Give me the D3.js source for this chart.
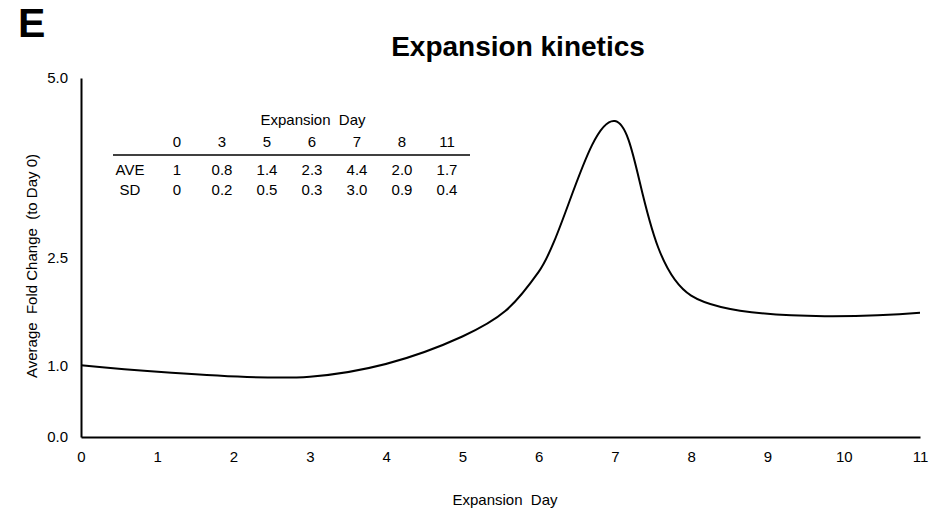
<!DOCTYPE html>
<html lang="en">
<head>
<meta charset="UTF-8">
<title>Expansion kinetics</title>
<script src="https://cdn.jsdelivr.net/npm/d3@7"></script>
<style>
  body { margin: 0; background: #fff; font-family: "Liberation Sans", Arial, sans-serif; }
  svg text { fill: #000; }
  .axis path { stroke: #000; stroke-width: 2px; }
  .axis text { font-size: 15px; font-family: "Liberation Sans", Arial, sans-serif; }
</style>
</head>
<body>
<svg id="chart" width="929" height="517"></svg>
<script>
// curve values
const days = [0, 3, 5, 6, 7, 8, 11];
const avgFold = [1.0, 0.84, 1.4, 2.3, 4.4, 1.97, 1.73];

// inset table, as printed
const tableDays = ["0", "3", "5", "6", "7", "8", "11"];
const aveLabels = ["1", "0.8", "1.4", "2.3", "4.4", "2.0", "1.7"];
const sdLabels = ["0", "0.2", "0.5", "0.3", "3.0", "0.9", "0.4"];

const xTicks = [0, 1, 2, 3, 4, 5, 6, 7, 8, 9, 10, 11];
const yTicks = [0, 1, 2.5, 5];

let svg = d3.select("#chart");

let x = d3.scaleLinear().domain([0, 11]).range([81, 920]);
let y = d3.scaleLinear().domain([0, 5]).range([437, 78]);

// axes, no tick marks
svg.append("g")
  .attr("class", "axis")
  .attr("transform", "translate(0,437)")
  .call(d3.axisBottom(x).tickValues(xTicks).tickSize(0).tickPadding(14).tickFormat(d3.format("d")));

svg.append("g")
  .attr("class", "axis")
  .attr("transform", "translate(81,0)")
  .call(d3.axisLeft(y).tickValues(yTicks).tickSize(0).tickPadding(13).tickFormat(d3.format(".1f")));

// smoothed line
let line = d3.line()
  .x((d, i) => x(days[i]))
  .y(d => y(d))
  .curve(d3.curveCardinal.tension(0));

svg.append("path")
  .datum(avgFold)
  .attr("d", line)
  .attr("fill", "none")
  .attr("stroke", "#000")
  .attr("stroke-width", 2);

// titles
svg.append("text").attr("x", 18).attr("y", 37)
  .style("font-size", "41px").style("font-weight", "bold").text("E");

svg.append("text").attr("x", 518).attr("y", 56).attr("text-anchor", "middle")
  .style("font-size", "28px").style("font-weight", "bold").text("Expansion kinetics");

svg.append("text").attr("x", 505).attr("y", 505).attr("text-anchor", "middle")
  .style("font-size", "15px").style("white-space", "pre").text("Expansion  Day");

svg.append("text")
  .attr("transform", "translate(37,266) rotate(-90)")
  .attr("text-anchor", "middle")
  .style("font-size", "15px").style("white-space", "pre")
  .text("Average  Fold Change  (to Day 0)");

// inset table
let col = d3.scalePoint().domain(tableDays).range([177, 447]);
let tbl = svg.append("g").style("font-size", "15px");

tbl.append("text").attr("x", 313).attr("y", 125).attr("text-anchor", "middle")
  .style("white-space", "pre").text("Expansion  Day");

tbl.selectAll(".hd").data(tableDays).join("text")
  .attr("x", d => col(d)).attr("y", 147).attr("text-anchor", "middle").text(d => d);

tbl.append("line").attr("x1", 113).attr("x2", 470).attr("y1", 155).attr("y2", 155)
  .attr("stroke", "#000").attr("stroke-width", 1.5);

tbl.append("text").attr("x", 130).attr("y", 175).attr("text-anchor", "middle").text("AVE");
tbl.append("text").attr("x", 130).attr("y", 195).attr("text-anchor", "middle").text("SD");

tbl.selectAll(".ave").data(aveLabels).join("text")
  .attr("x", (d, i) => col(tableDays[i])).attr("y", 175).attr("text-anchor", "middle").text(d => d);

tbl.selectAll(".sd").data(sdLabels).join("text")
  .attr("x", (d, i) => col(tableDays[i])).attr("y", 195).attr("text-anchor", "middle").text(d => d);
</script>
</body>
</html>
